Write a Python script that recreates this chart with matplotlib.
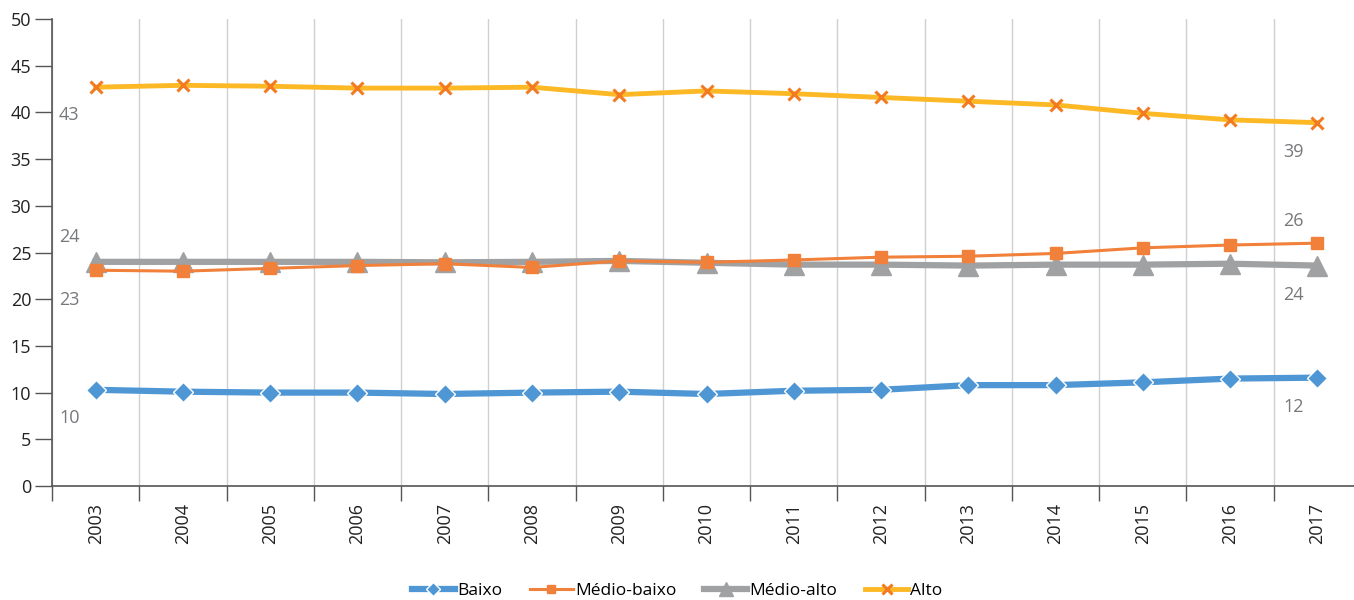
import matplotlib
matplotlib.use("Agg")
import matplotlib.pyplot as plt
from matplotlib import font_manager
import numpy as np

names = {f.name for f in font_manager.fontManager.ttflist}
fam = "Liberation Sans Narrow" if "Liberation Sans Narrow" in names else "Open Sans"
plt.rcParams['font.family'] = [fam, 'DejaVu Sans']

years = ["2003", "2004", "2005", "2006", "2007", "2008", "2009", "2010",
         "2011", "2012", "2013", "2014", "2015", "2016", "2017"]
baixo = [10.3, 10.1, 10.0, 10.0, 9.85, 10.0, 10.1, 9.85, 10.2, 10.3, 10.8, 10.8, 11.1, 11.5, 11.6]
medio_baixo = [23.1, 23.0, 23.3, 23.6, 23.8, 23.4, 24.1, 23.95, 24.2, 24.5, 24.6, 24.9, 25.5, 25.8, 26.0]
medio_alto = [24.0, 24.0, 24.0, 24.0, 23.95, 24.0, 24.1, 23.9, 23.7, 23.7, 23.6, 23.7, 23.7, 23.8, 23.6]
alto = [42.7, 42.9, 42.8, 42.6, 42.6, 42.7, 41.9, 42.3, 42.0, 41.6, 41.2, 40.8, 39.9, 39.2, 38.9]
series_names = ["Baixo", "Médio-baixo", "Médio-alto", "Alto"]
start_labels = ["10", "23", "24", "43"]
end_labels = ["12", "26", "24", "39"]

fig = plt.figure(figsize=(13.54, 6.0), dpi=100)
ax = fig.add_axes([52/1354, 1-486/600, 1309/1354, 467/600])
x = np.arange(len(years))

blue = "#4E97D4"
orange = "#F0803A"
grey = "#A0A1A3"
yellow = "#FDB826"
xorange = "#F27B22"

h1, = ax.plot(x, baixo, color=blue, lw=4.5, marker='D', ms=10, mfc=blue, mec='white', mew=1.0, zorder=4)
h2, = ax.plot(x, medio_baixo, color=orange, lw=2.2, marker='s', ms=8.5, mfc=orange, mec=orange, zorder=5)
h3, = ax.plot(x, medio_alto, color=grey, lw=4.5, marker='^', ms=14, mfc=grey, mec=grey, zorder=3)
h4, = ax.plot(x, alto, color=yellow, lw=3.5, marker='x', ms=9, mec=xorange, mew=2.2, zorder=4)

lab_col = "#77787B"
data = [baixo, medio_baixo, medio_alto, alto]
start_off = [-20, -21.5, 18, -20]
end_off = [-21, 16, -21, -21]
for s, sl, el, so, eo in zip(data, start_labels, end_labels, start_off, end_off):
    ax.annotate(sl, (x[0], s[0]), xytext=(-19, so), textcoords='offset points',
                ha='center', va='center', fontsize=13, color=lab_col)
    ax.annotate(el, (x[-1], s[-1]), xytext=(-17, eo), textcoords='offset points',
                ha='center', va='center', fontsize=13, color=lab_col)

ax.set_xlim(-0.5, len(years) - 0.5)
ax.set_ylim(0, 50)
ax.set_yticks(np.arange(0, 51, 5))
ax.tick_params(axis='y', length=12, width=1, color='#555555', labelsize=13, pad=3, labelcolor='#222222')
ax.set_xticks(x)
ax.set_xticklabels(years, rotation=90, fontsize=13, color='#222222')
ax.tick_params(axis='x', which='major', length=0, pad=12)
ax.set_xticks(np.arange(-0.5, len(years), 1), minor=True)
ax.tick_params(axis='x', which='minor', length=11, width=1, color='#555555')
ax.xaxis.grid(True, which='minor', color='#D0D0D0', lw=1)
ax.yaxis.grid(False)
ax.set_axisbelow(True)
for sp in ['top', 'right']:
    ax.spines[sp].set_visible(False)
for sp in ['left', 'bottom']:
    ax.spines[sp].set_color('#555555')
    ax.spines[sp].set_linewidth(1.2)

leg = fig.legend([h1, h2, h3, h4], series_names, loc='center', bbox_to_anchor=(0.5, 1-591/600),
                 ncol=4, frameon=False, fontsize=12.5, handlelength=2.5, handletextpad=0.1,
                 columnspacing=1.6, markerscale=0.75)

fig.savefig("out.png", dpi=100)
